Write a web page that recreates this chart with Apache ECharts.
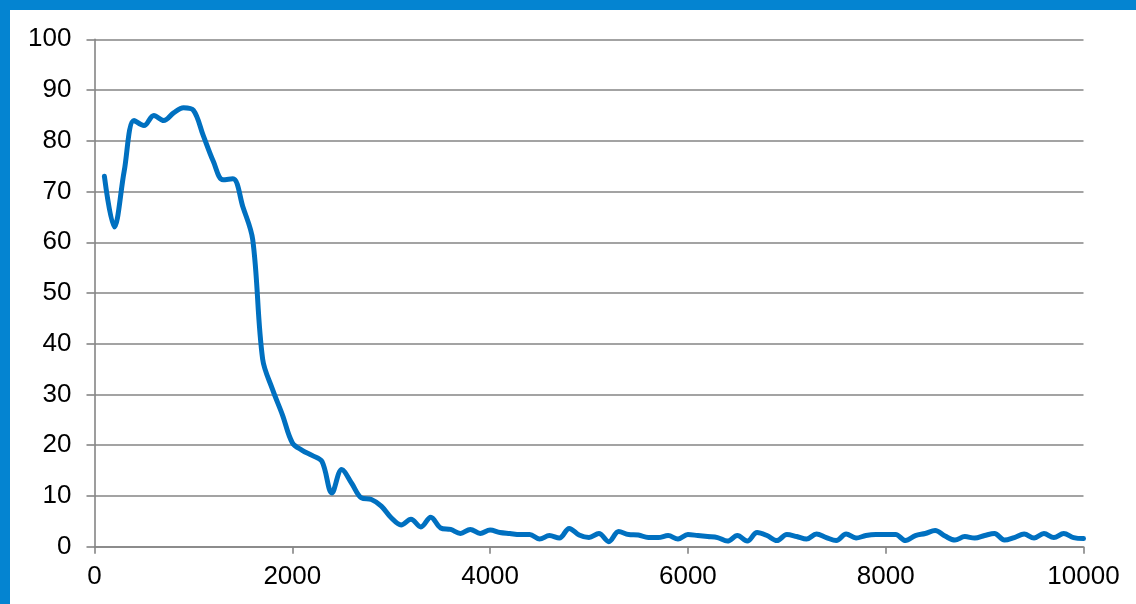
<!DOCTYPE html>
<html>
<head>
<meta charset="utf-8">
<script src="https://cdn.jsdelivr.net/npm/echarts@6/dist/echarts.min.js"></script>
<style>
  html, body { margin: 0; padding: 0; }
  body { width: 1136px; height: 604px; background: #0484d1; position: relative; overflow: hidden; }
  #chart { position: absolute; left: 10px; top: 10px; width: 1126px; height: 594px; background: #ffffff; }
</style>
</head>
<body>
<div id="chart"></div>
<script>
const xValues = [
  100, 200, 300, 400, 500, 600, 700, 800, 900, 1000,
  1100, 1200, 1300, 1400, 1500, 1600, 1700, 1800, 1900, 2000,
  2100, 2200, 2300, 2400, 2500, 2600, 2700, 2800, 2900, 3000,
  3100, 3200, 3300, 3400, 3500, 3600, 3700, 3800, 3900, 4000,
  4100, 4200, 4300, 4400, 4500, 4600, 4700, 4800, 4900, 5000,
  5100, 5200, 5300, 5400, 5500, 5600, 5700, 5800, 5900, 6000,
  6100, 6200, 6300, 6400, 6500, 6600, 6700, 6800, 6900, 7000,
  7100, 7200, 7300, 7400, 7500, 7600, 7700, 7800, 7900, 8000,
  8100, 8200, 8300, 8400, 8500, 8600, 8700, 8800, 8900, 9000,
  9100, 9200, 9300, 9400, 9500, 9600, 9700, 9800, 9900, 10000
];
const yValues = [
  73, 63, 74, 84, 83, 85, 84, 85.5, 86.5, 86,
  81, 76, 72.3, 72.5, 67, 60.5, 37, 31, 26, 20.5,
  19, 18, 16.8, 10.6, 15.2, 12.5, 9.6, 9.3, 8, 5.7,
  4.3, 5.4, 3.9, 5.8, 3.7, 3.4, 2.6, 3.4, 2.6, 3.3,
  2.8, 2.6, 2.4, 2.4, 1.5, 2.2, 1.7, 3.6, 2.3, 1.8,
  2.6, 1.0, 3.0, 2.4, 2.3, 1.8, 1.8, 2.2, 1.5, 2.4,
  2.2, 2.0, 1.8, 1.1, 2.2, 1.1, 2.8, 2.2, 1.2, 2.4,
  2.0, 1.5, 2.5, 1.8, 1.2, 2.5, 1.7, 2.2, 2.4, 2.4,
  2.4, 1.2, 2.2, 2.6, 3.2, 2.1, 1.3, 2.0, 1.7, 2.2,
  2.6, 1.3, 1.8, 2.5, 1.7, 2.6, 1.8, 2.6, 1.8, 1.6
];

const chart = echarts.init(document.getElementById("chart"));
chart.setOption({
  animation: false,
  backgroundColor: "#ffffff",
  textStyle: { fontFamily: "Liberation Sans, Arial, sans-serif" },
  grid: {
    left: 84.5,
    right: 52.5,
    top: 29.3,
    bottom: 57.3,
  },
  xAxis: {
    type: "value",
    min: 0,
    max: 10000,
    interval: 2000,
    axisLine: { show: true, lineStyle: { color: "#858585", width: 1.6 } },
    axisTick: { show: true, inside: false, length: 7, lineStyle: { color: "#858585", width: 1.6 } },
    axisLabel: { fontSize: 26, color: "#000000", margin: 17, formatter: (v) => String(v) },
    splitLine: { show: false },
  },
  yAxis: {
    type: "value",
    min: 0,
    max: 100,
    interval: 10,
    axisLine: { show: true, onZero: false, lineStyle: { color: "#858585", width: 1.6 } },
    axisTick: { show: true, length: 8, lineStyle: { color: "#858585", width: 1.6 } },
    axisLabel: { fontSize: 26, color: "#000000", margin: 23 },
    splitLine: { show: true, lineStyle: { color: "#858585", width: 1.6 } },
  },
  series: [
    {
      type: "line",
      data: xValues.map((x, i) => [x, yValues[i]]),
      smooth: 0.35,
      symbol: "none",
      lineStyle: { color: "#0070c0", width: 5, cap: "round", join: "round" },
    },
  ],
});
</script>
</body>
</html>
